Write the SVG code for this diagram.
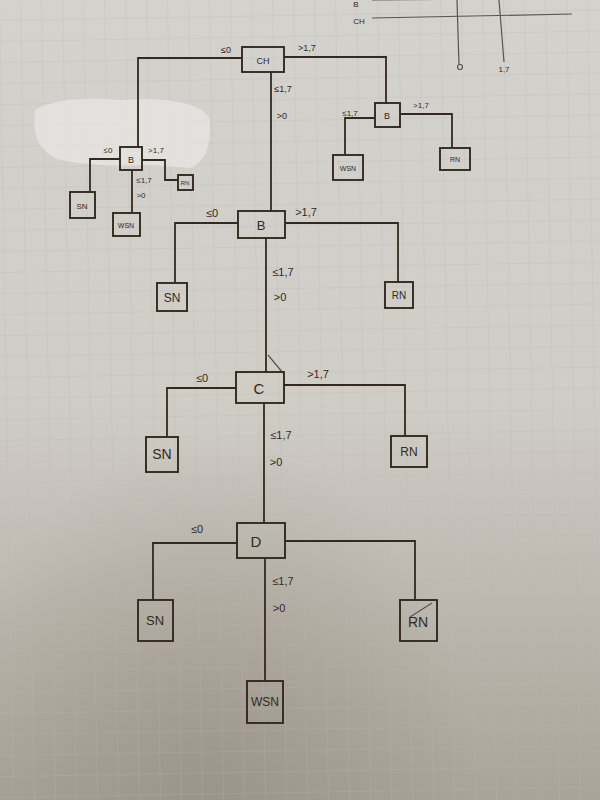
<svg xmlns="http://www.w3.org/2000/svg" width="600" height="800" viewBox="0 0 600 800">
<defs>
<linearGradient id="paper" x1="0" y1="0" x2="0" y2="1">
<stop offset="0" stop-color="#d4d2cd"/>
<stop offset="0.5" stop-color="#d0cdc7"/>
<stop offset="0.8" stop-color="#b9b4ab"/>
<stop offset="1" stop-color="#a9a399"/>
</linearGradient>
<radialGradient id="shade" cx="0.35" cy="1" r="0.45">
<stop offset="0" stop-color="#8f877c" stop-opacity="0.55"/>
<stop offset="1" stop-color="#8f877c" stop-opacity="0"/>
</radialGradient>
<pattern id="grid" width="21" height="21" patternUnits="userSpaceOnUse" patternTransform="rotate(-1)">
<path d="M21 0 V21 M0 21 H21" fill="none" stroke="#b8b6b3" stroke-width="0.8"/>
</pattern>
<style>
.box{fill:none;stroke:#33291f;stroke-width:1.9}
.ln{fill:none;stroke:#33291f;stroke-width:1.8}
.thin{fill:none;stroke:#5a534d;stroke-width:1.2}
.t{font-family:"Liberation Sans",Arial,sans-serif;fill:#33291f;text-anchor:middle}
.big{font-size:15px}
.sm{font-size:9px}
.lb{font-size:11px}
.lbs{font-size:8px}
</style>
</defs>
<rect width="600" height="800" fill="url(#paper)"/>
<rect width="600" height="800" fill="url(#shade)"/>
<rect width="600" height="800" fill="url(#grid)" opacity="0.7"/>
<path d="M35 110 Q60 95 120 100 Q200 95 210 120 Q212 160 190 168 L150 165 Q100 168 60 160 Q30 150 35 110Z" fill="#e6e5e2" opacity="0.8"/>

<g id="sketch">
<line x1="372" y1="0" x2="600" y2="-2" class="thin"/>
<text x="356" y="7" class="t lbs">B</text>
<line x1="372" y1="18" x2="572" y2="14" class="thin"/>
<text x="359" y="24" class="t lbs">CH</text>
<line x1="457" y1="0" x2="459" y2="65" class="thin"/>
<circle cx="460" cy="67" r="2.5" class="thin"/>
<line x1="499" y1="0" x2="504" y2="62" class="thin"/>
<text x="504" y="72" class="t lbs">1,7</text>
</g>

<g id="connectors">
<path class="ln" d="M242 58 H138 V148"/>
<path class="ln" d="M284 57 H386 V104"/>
<path class="ln" d="M271 72 V212"/>
<path class="ln" d="M120 159 H90 V192"/>
<path class="ln" d="M142 160 H165 V180 H178"/>
<path class="ln" d="M132 170 V213"/>
<path class="ln" d="M375 118 H345 V155"/>
<path class="ln" d="M400 114 H452 V148"/>
<path class="ln" d="M238 223 H175 V283"/>
<path class="ln" d="M285 223 H398 V283"/>
<path class="ln" d="M266 238 V372"/>
<path class="thin" d="M268 355 L283 373"/>
<path class="ln" d="M236 388 H167 V437"/>
<path class="ln" d="M284 385 H405 V436"/>
<path class="ln" d="M264 403 V523"/>
<path class="ln" d="M237 543 H153 V600"/>
<path class="ln" d="M285 541 H415 V600"/>
<path class="ln" d="M265 558 V682"/>
<path class="thin" d="M410 617 L432 603"/>
</g>

<g id="labels">
<text x="226" y="53" class="t sm">≤0</text>
<text x="307" y="51" class="t sm">&gt;1,7</text>
<text x="283" y="92" class="t sm">≤1,7</text>
<text x="282" y="119" class="t sm">&gt;0</text>
<text x="108" y="153" class="t lbs">≤0</text>
<text x="156" y="153" class="t lbs">&gt;1,7</text>
<text x="144" y="183" class="t lbs">≤1,7</text>
<text x="141" y="198" class="t lbs">&gt;0</text>
<text x="350" y="116" class="t lbs">≤1,7</text>
<text x="421" y="108" class="t lbs">&gt;1,7</text>
<text x="212" y="217" class="t lb">≤0</text>
<text x="306" y="216" class="t lb">&gt;1,7</text>
<text x="283" y="276" class="t lb">≤1,7</text>
<text x="280" y="301" class="t lb">&gt;0</text>
<text x="202" y="382" class="t lb">≤0</text>
<text x="318" y="378" class="t lb">&gt;1,7</text>
<text x="281" y="439" class="t lb">≤1,7</text>
<text x="276" y="466" class="t lb">&gt;0</text>
<text x="197" y="533" class="t lb">≤0</text>
<text x="283" y="585" class="t lb">≤1,7</text>
<text x="279" y="612" class="t lb">&gt;0</text>
</g>

<g id="CH"><rect x="242" y="47" width="42" height="25" class="box"/><text x="263" y="64" class="t sm">CH</text></g>
<g id="B_left"><rect x="120" y="147" width="22" height="23" class="box"/><text x="131" y="163" class="t sm">B</text></g>
<g id="SN_left"><rect x="70" y="192" width="25" height="26" class="box"/><text x="82" y="209" class="t lbs">SN</text></g>
<g id="RN_left"><rect x="178" y="175" width="15" height="15" class="box"/><text x="185" y="185" class="t" font-size="6">RN</text></g>
<g id="WSN_left"><rect x="113" y="213" width="27" height="23" class="box"/><text x="126" y="228" class="t" font-size="7">WSN</text></g>
<g id="B_right"><rect x="375" y="103" width="25" height="24" class="box"/><text x="387" y="119" class="t sm">B</text></g>
<g id="WSN_right"><rect x="333" y="155" width="30" height="25" class="box"/><text x="348" y="171" class="t" font-size="7">WSN</text></g>
<g id="RN_right"><rect x="440" y="148" width="30" height="22" class="box"/><text x="455" y="162" class="t" font-size="7">RN</text></g>
<g id="B"><rect x="238" y="211" width="47" height="27" class="box"/><text x="261" y="230" class="t" font-size="13">B</text></g>
<g id="SN_B"><rect x="157" y="283" width="30" height="28" class="box"/><text x="172" y="302" class="t" font-size="12">SN</text></g>
<g id="RN_B"><rect x="385" y="282" width="28" height="26" class="box"/><text x="399" y="299" class="t" font-size="10">RN</text></g>
<g id="C"><rect x="236" y="372" width="48" height="31" class="box"/><text x="259" y="394" class="t big">C</text></g>
<g id="SN_C"><rect x="146" y="437" width="32" height="35" class="box"/><text x="162" y="459" class="t" font-size="14">SN</text></g>
<g id="RN_C"><rect x="391" y="436" width="36" height="31" class="box"/><text x="409" y="456" class="t" font-size="12">RN</text></g>
<g id="D"><rect x="237" y="523" width="48" height="35" class="box"/><text x="256" y="547" class="t big">D</text></g>
<g id="SN_D"><rect x="138" y="600" width="35" height="41" class="box"/><text x="155" y="625" class="t" font-size="13">SN</text></g>
<g id="RN_D"><rect x="400" y="600" width="37" height="41" class="box"/><text x="418" y="627" class="t" font-size="14">RN</text></g>
<g id="WSN"><rect x="247" y="681" width="36" height="42" class="box"/><text x="265" y="706" class="t" font-size="12">WSN</text></g>
</svg>
